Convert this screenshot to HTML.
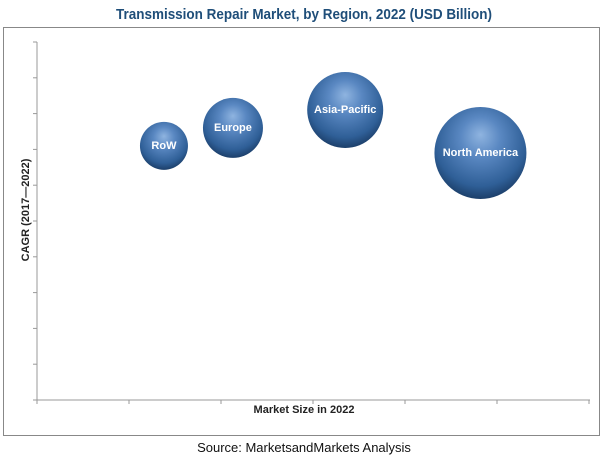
<!DOCTYPE html>
<html><head><meta charset="utf-8"><style>
body{margin:0;background:#fff;width:607px;height:460px;overflow:hidden;font-family:"Liberation Sans",sans-serif}
</style></head><body>
<svg width="607" height="460">
<defs>
<radialGradient id="g" cx="0.5" cy="0.38" r="0.62" fx="0.5" fy="0.3">
<stop offset="0" stop-color="#8fb4e0"/><stop offset="0.35" stop-color="#5a88c2"/><stop offset="0.8" stop-color="#2f5f97"/><stop offset="1" stop-color="#1c3f6a"/>
</radialGradient>
</defs>
<text x="304" y="19" text-anchor="middle" font-size="15" font-weight="bold" fill="#1f4e79" textLength="376" lengthAdjust="spacingAndGlyphs">Transmission Repair Market, by Region, 2022 (USD Billion)</text>
<rect x="3.5" y="27.5" width="596" height="408" fill="none" stroke="#888"/>
<g id="axes"></g>
<g id="bubbles"></g>
<text x="304" y="413" text-anchor="middle" font-size="11" font-weight="bold" fill="#222">Market Size in 2022</text>
<text transform="translate(29,210) rotate(-90)" text-anchor="middle" font-size="11" font-weight="bold" fill="#222">CAGR (2017—2022)</text>
<text x="304" y="452" text-anchor="middle" font-size="13" fill="#111">Source: MarketsandMarkets Analysis</text>
</svg>
<script>
const regions=["RoW","Europe","Asia-Pacific","North America"];
const marketSize=[1.38,2.13,3.35,4.82];
const cagr=[7.1,7.6,8.1,6.9];
const bubbleSize=[24,30,38,46];
const NS="http://www.w3.org/2000/svg";
const x0=37,x1=589,y0=400,y1=42,xMax=6,yMax=10;
const xs=v=>x0+(x1-x0)*v/xMax, ys=v=>y0-(y0-y1)*v/yMax;
function mk(t,a,p){const e=document.createElementNS(NS,t);for(const k in a)e.setAttribute(k,a[k]);p.appendChild(e);return e;}
const ax=document.getElementById('axes');
let l=mk('line',{x1:x0,y1:y1,x2:x0,y2:y0,stroke:'#999'},ax);


l=mk('line',{x1:x0,y1:y0,x2:x1+1,y2:y0,stroke:'#999'},ax);


for(let i=0;i<=yMax;i++){const t=mk('line',{x1:x0-4,y1:ys(i),x2:x0,y2:ys(i),stroke:'#999'},ax);

}
for(let i=0;i<=xMax;i++){const t=mk('line',{x1:xs(i),y1:y0,x2:xs(i),y2:y0+4,stroke:'#999'},ax);

}
const bg=document.getElementById('bubbles');
regions.forEach((r,i)=>{const cx=xs(marketSize[i]),cy=ys(cagr[i]);
const c=mk('circle',{cx:cx,cy:cy,r:bubbleSize[i],fill:'url(#g)'},bg);


const t=mk('text',{x:cx,y:cy+3,'text-anchor':'middle','font-size':'11','font-weight':'bold',fill:'#fff'},bg);t.textContent=r;

});
</script>
</body></html>
